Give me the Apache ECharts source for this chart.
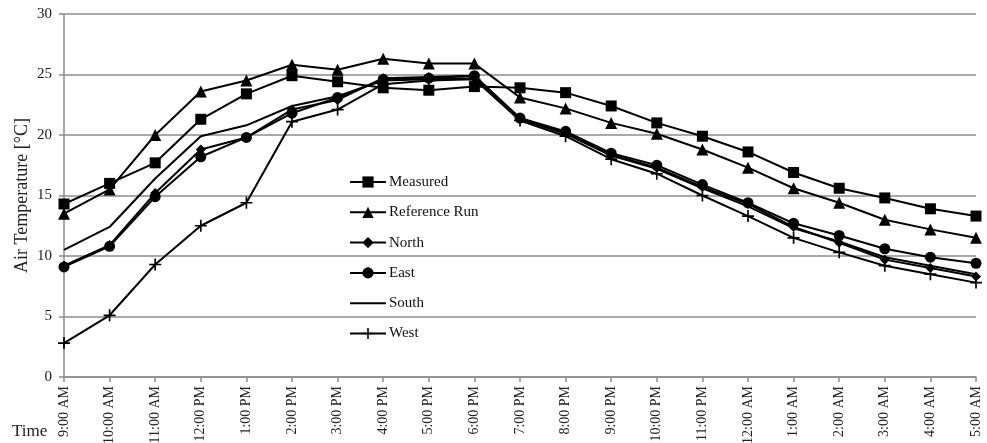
<!DOCTYPE html>
<html>
<head>
<meta charset="utf-8">
<script src="https://cdn.jsdelivr.net/npm/echarts@6/dist/echarts.min.js"></script>
<style>
html,body{margin:0;padding:0;background:#fff;}
#c{width:987px;height:443px;}
</style>
</head>
<body>
<div id="c"></div>
<script>
var categories = ["9:00 AM","10:00 AM","11:00 AM","12:00 PM","1:00 PM","2:00 PM","3:00 PM","4:00 PM","5:00 PM","6:00 PM","7:00 PM","8:00 PM","9:00 PM","10:00 PM","11:00 PM","12:00 AM","1:00 AM","2:00 AM","3:00 AM","4:00 AM","5:00 AM"];
var measured     = [14.3,16.0,17.7,21.3,23.4,24.9,24.4,23.9,23.7,24.0,23.9,23.5,22.4,21.0,19.9,18.6,16.9,15.6,14.8,13.9,13.3];
var referenceRun = [13.5,15.5,20.0,23.6,24.5,25.8,25.4,26.3,25.9,25.9,23.1,22.2,21.0,20.1,18.8,17.3,15.6,14.4,13.0,12.2,11.5];
var north        = [9.2,10.9,15.2,18.8,19.8,22.1,22.9,24.7,24.8,24.9,21.3,20.2,18.4,17.3,15.7,14.3,12.4,11.1,9.7,9.0,8.3];
var east         = [9.1,10.8,14.9,18.2,19.8,21.8,23.1,24.6,24.7,24.9,21.4,20.3,18.5,17.5,15.9,14.4,12.7,11.7,10.6,9.9,9.4];
var south        = [10.5,12.4,16.4,19.9,20.8,22.4,23.2,24.5,24.6,24.7,21.3,20.1,18.3,17.2,15.6,14.1,12.3,11.2,9.9,9.2,8.5];
var west         = [2.8,5.1,9.3,12.5,14.4,21.1,22.1,24.2,24.5,24.6,21.2,19.9,18.0,16.8,15.0,13.3,11.5,10.3,9.2,8.5,7.8];
var yTicks = [0,5,10,15,20,25,30];

var FONT = '"Liberation Serif","Times New Roman",serif';
var plusPath = 'path://M4.3,0 L5.7,0 L5.7,4.3 L10,4.3 L10,5.7 L5.7,5.7 L5.7,10 L4.3,10 L4.3,5.7 L0,5.7 L0,4.3 L4.3,4.3 Z';

function mk(name, data, symbol, size) {
  return {
    name: name, type: 'line', data: data,
    symbol: symbol, symbolSize: size, showSymbol: symbol !== 'none',
    lineStyle: {color: '#000', width: 2},
    itemStyle: {color: '#000'},
    emphasis: {disabled: true},
    animation: false
  };
}

var chart = echarts.init(document.getElementById('c'), null, {renderer: 'canvas'});
chart.setOption({
  backgroundColor: '#fff',
  animation: false,
  grid: {left: 64, right: 11, top: 14, bottom: 66, containLabel: false, outerBoundsMode: 'none'},
  legend: {
    orient: 'vertical', left: 349, top: 174.5, padding: 0,
    itemWidth: 36, itemHeight: 14, itemGap: 15.3,
    textStyle: {fontFamily: FONT, fontSize: 15, color: '#111', padding: [0,0,0,-2]},
    data: ['Measured','Reference Run','North','East',
           {name: 'South', itemStyle: {opacity: 0}},
           'West']
  },
  xAxis: {
    type: 'category', data: categories, boundaryGap: false,
    axisLine: {lineStyle: {color: '#8c8c8c', width: 1.5}},
    axisTick: {show: true, alignWithLabel: true, length: 5, lineStyle: {color: '#8c8c8c', width: 1.5}},
    axisLabel: {rotate: 90, interval: 0, margin: 9, fontFamily: FONT, fontSize: 14, color: '#222'},
    splitLine: {show: false}
  },
  yAxis: {
    type: 'value', min: yTicks[0], max: yTicks[yTicks.length-1], interval: 5,
    name: 'Air Temperature [°C]', nameLocation: 'middle', nameGap: 33, nameMoveOverlap: false,
    nameTextStyle: {fontFamily: FONT, fontSize: 18, color: '#222'},
    axisLine: {show: true, lineStyle: {color: '#8c8c8c', width: 1.5}},
    axisTick: {show: true, length: 5, lineStyle: {color: '#8c8c8c', width: 1.5}},
    axisLabel: {fontFamily: FONT, fontSize: 15, color: '#222', margin: 12},
    splitLine: {lineStyle: {color: '#8c8c8c', width: 1.5}}
  },
  graphic: [{
    type: 'text', left: 12, top: 423,
    style: {text: 'Time', font: '17px "Liberation Serif","Times New Roman",serif', fill: '#222'}
  }],
  series: [
    mk('Measured', measured, 'rect', 11),
    mk('Reference Run', referenceRun, 'triangle', 12),
    mk('North', north, 'diamond', 10),
    mk('East', east, 'circle', 11),
    mk('South', south, 'none', 0),
    mk('West', west, plusPath, 12)
  ]
});
</script>
</body>
</html>
